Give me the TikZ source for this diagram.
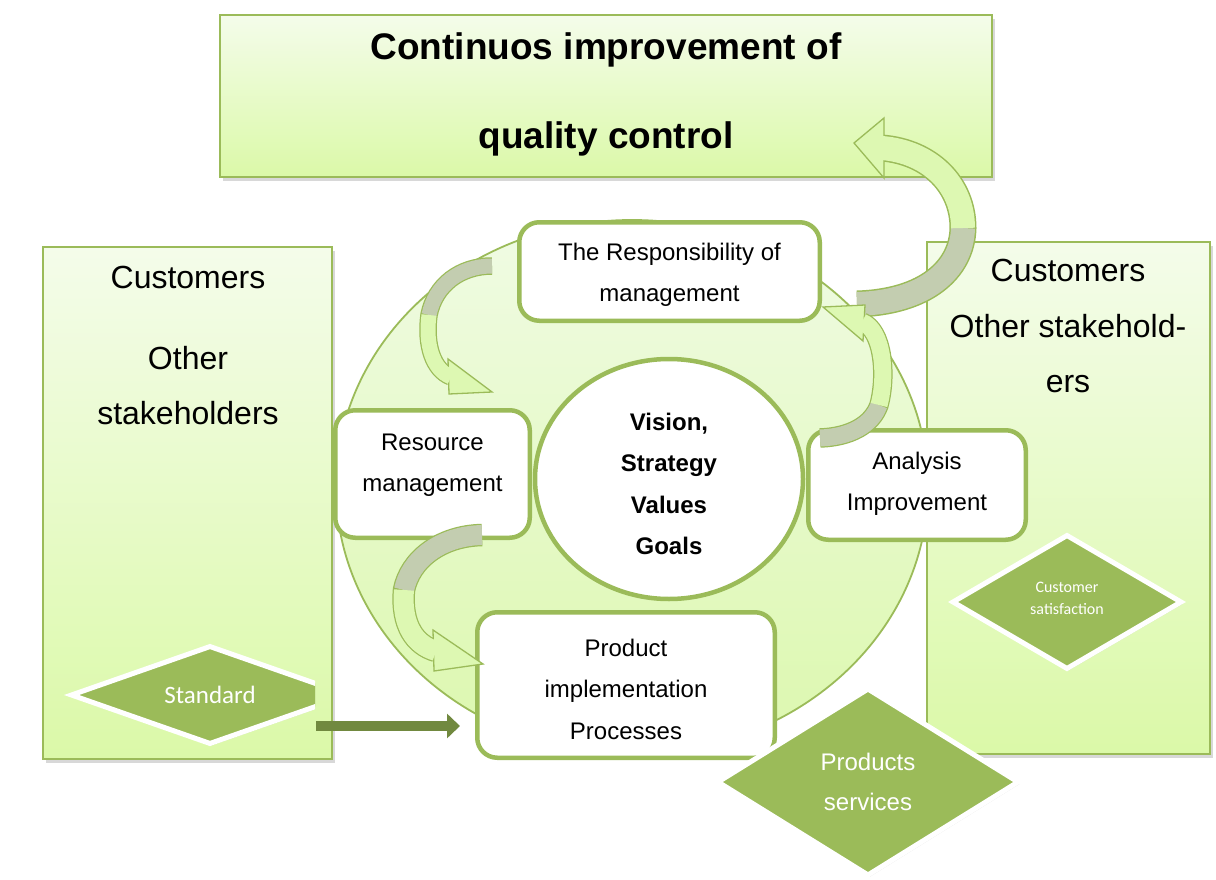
\documentclass[tikz,border=0pt]{standalone}
\usepackage{fontspec}
\setmainfont{Liberation Sans}
\newfontfamily\calfont{Carlito}
\usetikzlibrary{shapes.geometric,arrows.meta,shadows}
\definecolor{gborder}{HTML}{9BBB59}
\definecolor{gdark}{HTML}{71893F}
\definecolor{lighttop}{HTML}{F4FCEA}
\definecolor{lightbot}{HTML}{DBF9A8}
\definecolor{elltop}{HTML}{F0FBE4}
\definecolor{ellbot}{HTML}{DCF8AE}
\definecolor{arrlight}{HTML}{DDF8B2}
\definecolor{arrgray}{HTML}{C3CDB0}
\begin{document}
\begin{tikzpicture}[x=1pt,y=-1pt,
  bigbox/.style={rectangle, draw=gborder, line width=2pt, top color=lighttop, bottom color=lightbot, inner sep=0,
     drop shadow={shadow xshift=3pt,shadow yshift=-4pt,opacity=0.3}},
  rbox/.style={rectangle, rounded corners=20pt, draw=gborder, line width=4.5pt, fill=white, inner sep=0},
  btext/.style={align=center, font=\fontsize{24}{41.5}\selectfont, inner sep=0},
  bigtext/.style={align=center, inner sep=0},
  dia/.style={diamond, fill=gborder, draw=white, line width=5pt, inner sep=0, text=white, align=center,
     drop shadow={shadow xshift=1.5pt,shadow yshift=-2pt,opacity=0.25}},
  outl/.style={draw=gborder, line width=#1},
  shaftg/.style={draw=arrgray, line width=#1},
  shaftl/.style={draw=arrlight, line width=#1},
  ahead/.style={draw=gborder, line width=1.3pt, fill=arrlight, line join=miter},
]
\useasboundingbox (0,0) rectangle (1216,880);
\fill[white] (0,0) rectangle (1216,880);

% big boxes
\node[bigbox, minimum width=772, minimum height=162] (title) at (606,96) {};
\node[bigtext, font=\fontsize{37}{89}\selectfont\bfseries] (titleT) at (606,94) {Continuos improvement of\\quality control};
\node[bigbox, minimum width=289, minimum height=512] (lbox) at (187.5,503) {};
\node[bigtext, font=\fontsize{32}{55}\selectfont] (lboxT) at (188,345) {Customers\\[26pt]Other\\stakeholders};
\node[bigbox, minimum width=283, minimum height=512] (rbox) at (1068.5,498) {};
\node[bigtext, font=\fontsize{32}{55.5}\selectfont] (rboxT) at (1068,326) {Customers\\Other stakehold-\\ers};

% big ellipse
\node[ellipse, draw=gborder, line width=1.8pt, top color=elltop, bottom color=ellbot, inner sep=0,
      minimum width=592, minimum height=534] (big) at (632,487) {};

% core
\node[ellipse, draw=gborder, line width=4.5pt, fill=white, inner sep=0,
      minimum width=268, minimum height=240] (core) at (669,479) {};
\node[btext, font=\fontsize{24}{41.5}\selectfont\bfseries] (coreT) at (669,484) {Vision,\\Strategy\\Values\\Goals};

% rounded boxes
\node[rbox, minimum width=300.5, minimum height=98.5] (resp) at (669.5,271.5) {};
\node[btext] (respT) at (669.5,275) {The Responsibility of\\management};
\node[rbox, minimum width=194.5, minimum height=127.5] (res) at (432.5,474) {};
\node[btext] (resT) at (432.5,465) {Resource\\management};
\node[rbox, minimum width=217.5, minimum height=109.5] (ana) at (917,485) {};
\node[btext] (anaT) at (917,484) {Analysis\\Improvement};
\node[rbox, minimum width=297.5, minimum height=145.5] (prod) at (626,685) {};
\node[btext] (prodT) at (626,689) {Product\\implementation\\Processes};

% diamonds
\node[dia, aspect=1.7, minimum width=230, minimum height=135, text depth=8pt, font=\calfont\fontsize{16}{22}\selectfont] (cs) at (1067,602)
   {Customer\\satisfaction};
\node[dia, aspect=1.6, minimum width=302, minimum height=188, font=\fontsize{24}{40}\selectfont] (ps) at (868,782)
   {Products\\services};
\begin{scope}
  \clip (0,0) rectangle (315,880);
  \node[dia, aspect=2.7, minimum width=279, minimum height=99, font=\calfont\fontsize{25}{30}\selectfont] (std) at (210,695)
     {Standard};
\end{scope}

% straight arrow
\coordinate (stdR) at (316,726);
\draw[gdark, line width=10pt, -{Triangle[length=13pt,width=24pt]}, shorten >=15pt] (stdR) -- (stdR -| prod.west);

% curved arrow 1 (to title)
\coordinate (a1s) at (857,304);
\coordinate (a1m) at (963,228);
\coordinate (a1e) at (882,148);
\draw[outl=27pt] (a1s) .. controls (925,302) and (962,270) .. (a1m) .. controls (963,185) and (930,152) .. (a1e);
\draw[ahead] (884,118) -- (854,143) -- (884,178) -- cycle;
\draw[shaftg=24pt] (a1s) .. controls (925,302) and (962,270) .. (a1m);
\draw[shaftl=24pt] (a1m) .. controls (963,185) and (930,152) .. (a1e);

% curved arrow 2 (analysis -> responsibility)
\coordinate (a2s) at (820,438);
\coordinate (a2m) at (879,405);
\coordinate (a2e) at (862,322);
\draw[outl=19.5pt] (a2s) .. controls (850,437) and (872,425) .. (a2m) .. controls (887,375) and (883,330) .. (a2e);
\draw[ahead] (865,305) -- (823,307) -- (863,341) -- cycle;
\draw[shaftg=17pt] (a2s) .. controls (850,437) and (872,425) .. (a2m);
\draw[shaftl=17pt] (a2m) .. controls (887,375) and (883,330) .. (a2e);

% curved arrow 3 (responsibility -> resource)
\coordinate (a3s) at (492,266);
\coordinate (a3m) at (429,315);
\coordinate (a3e) at (451,377);
\draw[outl=17.5pt] (a3s) .. controls (460,266) and (435,285) .. (a3m) .. controls (425,345) and (433,370) .. (a3e);
\draw[ahead] (448,359) -- (492,392) -- (449,394) -- cycle;
\draw[shaftg=15pt] (a3s) .. controls (460,266) and (435,285) .. (a3m);
\draw[shaftl=15pt] (a3m) .. controls (425,345) and (433,370) .. (a3e);

% curved arrow 4 (resource -> product)
\coordinate (a4s) at (482,535);
\coordinate (a4m) at (404,590);
\coordinate (a4e) at (436,651);
\draw[outl=22.5pt] (a4s) .. controls (440,536) and (410,560) .. (a4m) .. controls (401,625) and (415,645) .. (a4e);
\draw[ahead] (433,630) -- (483,664) -- (434,671) -- cycle;
\draw[shaftg=20pt] (a4s) .. controls (440,536) and (410,560) .. (a4m);
\draw[shaftl=20pt] (a4m) .. controls (401,625) and (415,645) .. (a4e);
\end{tikzpicture}
\end{document}
